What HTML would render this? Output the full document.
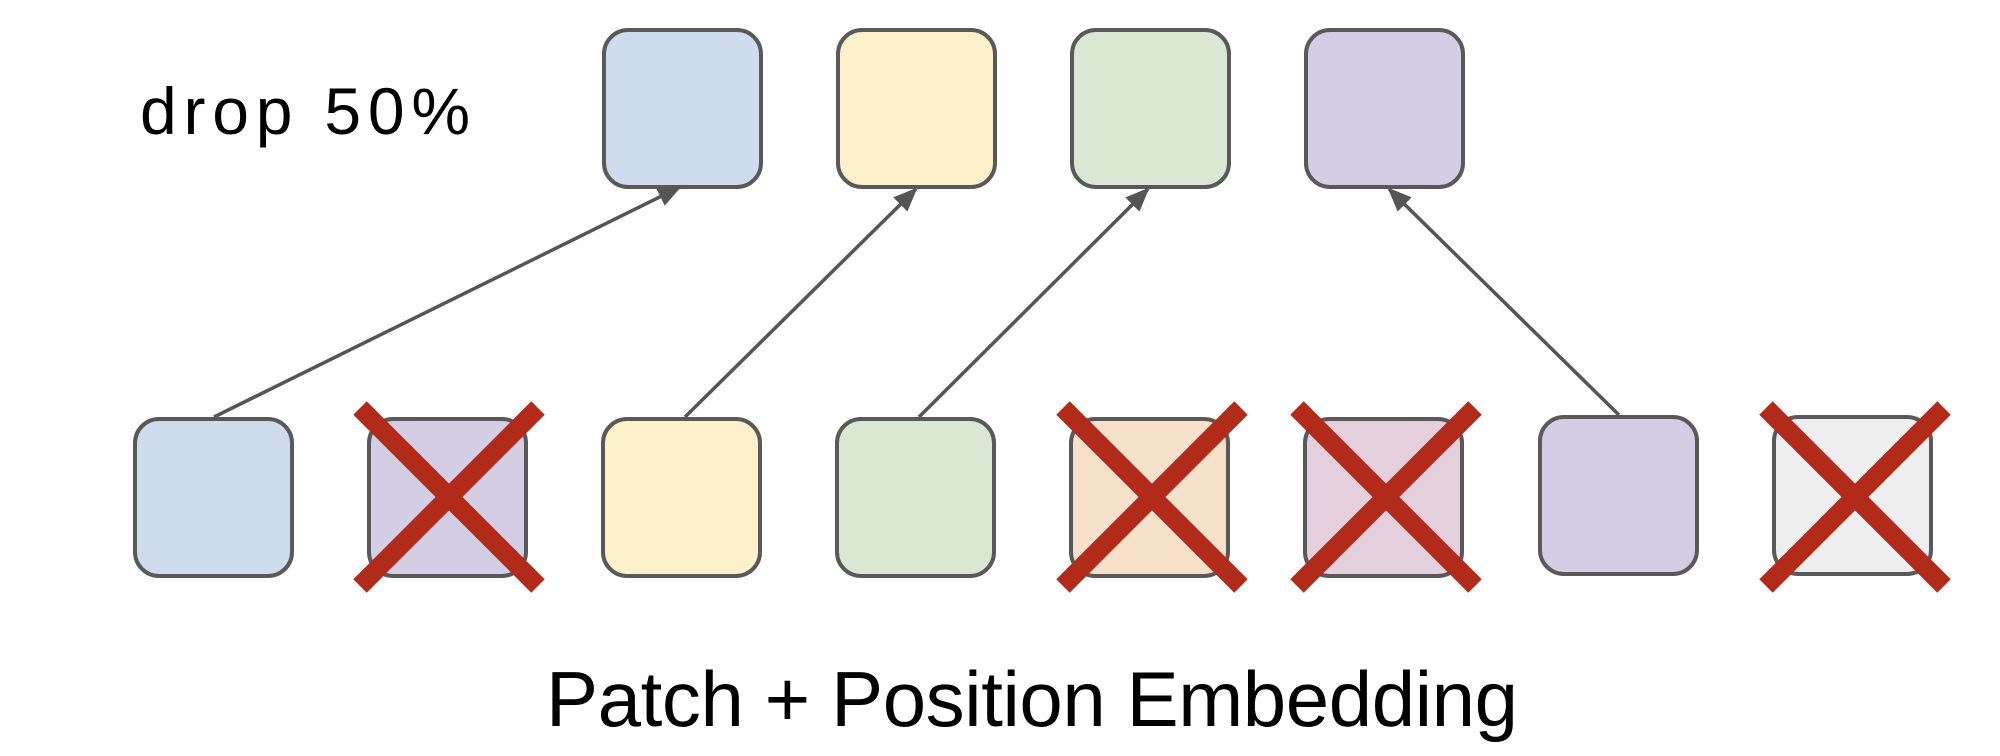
<!DOCTYPE html>
<html><head><style>html,body{margin:0;padding:0;background:#fff;}svg{display:block}</style></head>
<body>
<svg width="2000" height="756" xmlns="http://www.w3.org/2000/svg">
<defs><marker id="a" markerWidth="10" markerHeight="10" refX="8" refY="5" orient="auto" markerUnits="userSpaceOnUse" viewBox="0 0 10 10"><path d="M0,0 L10,5 L0,10 z" fill="#555"/></marker>
<marker id="m" markerWidth="24" markerHeight="20" refX="22" refY="10" orient="auto" markerUnits="userSpaceOnUse"><path d="M0,0 L24,10 L0,20 z" fill="#555"/></marker></defs>
<g stroke="#595959" stroke-width="4">
<rect x="604" y="30" width="157" height="157" rx="24" fill="#cfdcee"/>
<rect x="838" y="30" width="157" height="157" rx="24" fill="#fdf1cc"/>
<rect x="1072" y="30" width="157" height="157" rx="24" fill="#d9e7d3"/>
<rect x="1306" y="30" width="157" height="157" rx="24" fill="#d3cee4"/>
<rect x="135" y="419" width="157" height="157" rx="24" fill="#cfdcee"/>
<rect x="369" y="419" width="157" height="157" rx="24" fill="#d3cee4"/>
<rect x="603" y="419" width="157" height="157" rx="24" fill="#fdf1cc"/>
<rect x="837" y="419" width="157" height="157" rx="24" fill="#d9e7d3"/>
<rect x="1071" y="419" width="157" height="157" rx="24" fill="#f8e1ca"/>
<rect x="1305" y="419" width="157" height="157" rx="24" fill="#e4d0dc"/>
<rect x="1540" y="417" width="157" height="157" rx="24" fill="#d3cee4"/>
<rect x="1774" y="417" width="157" height="157" rx="24" fill="#eeeeee"/>
</g>
<g stroke="#555" stroke-width="3.5" fill="none">
<line x1="214" y1="417" x2="680" y2="187" marker-end="url(#m)"/>
<line x1="685" y1="417" x2="916" y2="189" marker-end="url(#m)"/>
<line x1="919" y1="417" x2="1148" y2="189" marker-end="url(#m)"/>
<line x1="1619" y1="415" x2="1389" y2="189" marker-end="url(#m)"/>
</g>
<g stroke="#b22a1a" stroke-width="19">
<line x1="360" y1="408" x2="538" y2="586"/><line x1="538" y1="408" x2="360" y2="586"/>
<line x1="1063" y1="408" x2="1241" y2="586"/><line x1="1241" y1="408" x2="1063" y2="586"/>
<line x1="1297" y1="408" x2="1475" y2="586"/><line x1="1475" y1="408" x2="1297" y2="586"/>
<line x1="1766" y1="408" x2="1944" y2="586"/><line x1="1944" y1="408" x2="1766" y2="586"/>
</g>
<text x="140" y="134" font-family="Liberation Sans, sans-serif" font-size="66" fill="#000" textLength="330">drop 50%</text>
<text x="546" y="726" font-family="Liberation Sans, sans-serif" font-size="78" fill="#000" textLength="972">Patch + Position Embedding</text>
</svg>
</body></html>
